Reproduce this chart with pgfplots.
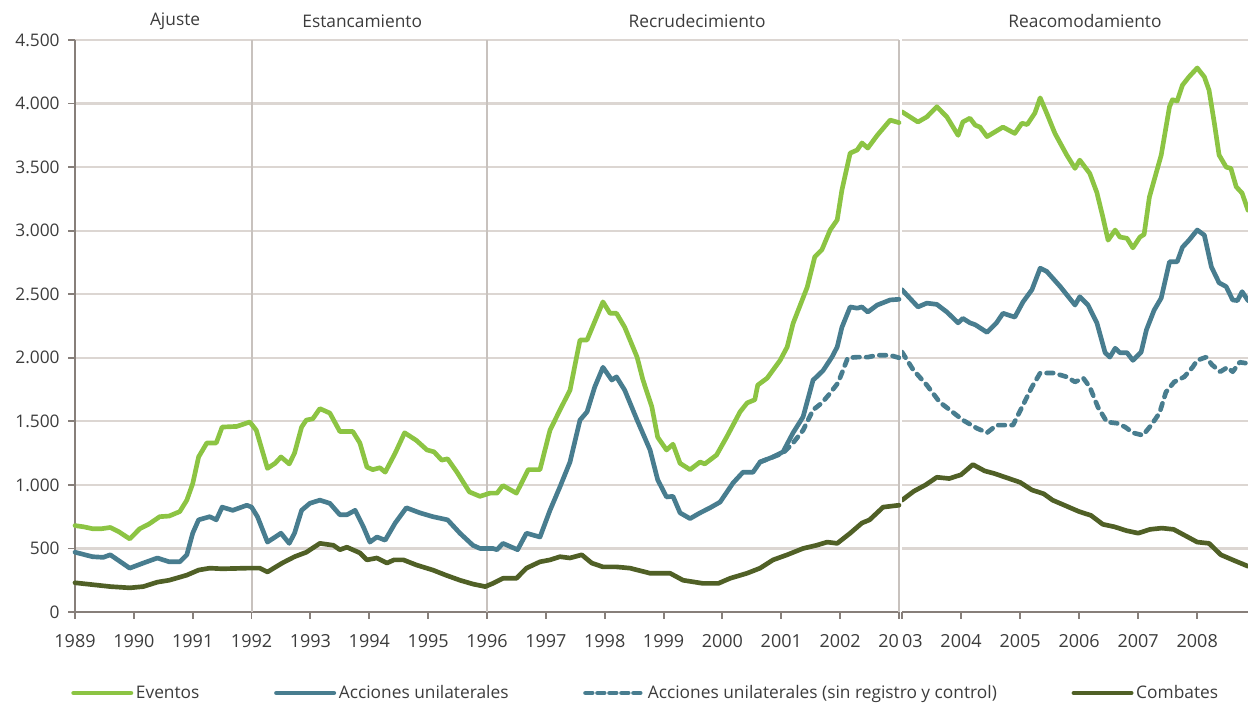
\documentclass[border=0pt]{standalone}
\usepackage{pgfplots}
\pgfplotsset{compat=1.18}
\usepackage{fontspec}
\setmainfont{Open Sans}

\definecolor{eventos}{RGB}{140,196,67}
\definecolor{acciones}{RGB}{72,125,143}
\definecolor{combates}{RGB}{80,96,38}
\definecolor{gridc}{RGB}{220,214,210}
\definecolor{axisc}{RGB}{135,127,122}
\definecolor{sepc}{RGB}{200,194,190}
\definecolor{txt}{RGB}{60,60,60}

\pgfplotsset{
  common/.style={
    scale only axis, height=429pt,
    ymin=0, ymax=4500, ytick={0,500,...,4500},
    ymajorgrids, grid style={draw=gridc, line width=1.6pt},
    axis x line=bottom, axis y line=left,
    axis line style={-, draw=axisc, line width=1.6pt},
    tick style={draw=axisc, line width=1.4pt},
    tick align=outside, major tick length=5pt,
    tick label style={text=txt},
    scaled y ticks=false,
    /pgf/number format/1000 sep={.},
    /pgf/number format/assume math mode=true,
    xticklabel style={yshift=-8pt, font=\fontsize{13.5}{15}\selectfont},
    every axis plot/.append style={line width=3.5pt, line join=round, line cap=round},
  }
}

\begin{document}
\begin{tikzpicture}[font=\fontsize{13}{15}\selectfont]
\useasboundingbox (-56.25pt,-69pt) rectangle (879.75pt,459pt);

% left panel 1989-2003
\begin{axis}[common, width=618pt, xmin=1989, xmax=2003, clip=false,
    xtick={1989,1990,...,2003},
    xticklabels={1989,1990,1991,1992,1993,1994,1995,1996,1997,1998,1999,2000,2001,2002,20\phantom{03}},
    yticklabel style={xshift=-3pt},
    legend columns=4,
    legend style={at={(-0.0097,-0.1416)}, anchor=west, draw=none, fill=none,
      text=txt, font=\fontsize{13}{15}\selectfont,
      /tikz/every even column/.append style={column sep=54pt}},
    legend cell align=left,
    legend image code/.code={\draw[#1] (0pt,0pt) -- (43pt,0pt);},
]
\draw[sepc, line width=1.5pt] (axis cs:1992,0) -- (axis cs:1992,4500);
\draw[sepc, line width=1.5pt] (axis cs:1996,0) -- (axis cs:1996,4500);
\draw[sepc, line width=1.5pt] (axis cs:2003,0) -- (axis cs:2003,4500);

\addplot[combates, forget plot] coordinates {
(1989.0,230)(1989.3,215)(1989.6,200)(1989.93,190)(1990.16,200)(1990.4,235)(1990.6,250)
(1990.9,290)(1991.1,330)(1991.29,345)(1991.5,340)(1991.92,345)(1992.14,345)(1992.27,315)
(1992.52,385)(1992.73,435)(1992.93,470)(1993.16,540)(1993.39,525)(1993.5,490)(1993.62,510)
(1993.84,465)(1993.96,410)(1994.13,425)(1994.3,385)(1994.42,410)(1994.58,410)(1994.8,370)
(1995.08,330)(1995.3,290)(1995.54,250)(1995.76,220)(1995.97,200)(1996.1,225)(1996.27,265)
(1996.5,265)(1996.67,345)(1996.9,395)(1997.07,410)(1997.24,435)(1997.41,425)(1997.61,450)
(1997.78,385)(1997.97,355)(1998.2,355)(1998.43,345)(1998.77,305)(1999.11,305)(1999.33,250)
(1999.67,225)(1999.93,225)(2000.13,265)(2000.42,305)(2000.64,345)(2000.86,410)(2001.1,450)
(2001.37,500)(2001.6,525)(2001.78,550)(2001.95,540)(2002.17,620)(2002.37,700)(2002.5,725)
(2002.73,825)(2003.0,840)};

\addplot[acciones, dash pattern=on 5pt off 5pt, forget plot] coordinates {
(2000.64,1180)(2000.86,1220)(2001.03,1250)(2001.2,1330)(2001.37,1430)(2001.54,1590)
(2001.69,1645)(2001.8,1705)(2001.96,1800)(2002.03,1880)(2002.13,2000)(2002.29,2005)
(2002.47,2005)(2002.63,2020)(2002.85,2020)(2003.0,2000)};

\addplot[acciones, forget plot] coordinates {
(1989.0,470)(1989.3,435)(1989.48,430)(1989.6,450)(1989.93,345)(1990.16,385)(1990.4,425)
(1990.6,395)(1990.78,395)(1990.9,450)(1991.0,620)(1991.1,725)(1991.29,750)(1991.4,725)
(1991.5,825)(1991.68,800)(1991.92,840)(1992.0,825)(1992.1,750)(1992.27,550)(1992.5,620)
(1992.64,540)(1992.73,620)(1992.85,800)(1992.99,855)(1993.16,880)(1993.33,855)(1993.5,765)
(1993.62,765)(1993.76,800)(1993.9,670)(1994.01,550)(1994.13,590)(1994.27,565)(1994.44,700)
(1994.63,820)(1994.86,780)(1995.08,750)(1995.33,725)(1995.54,620)(1995.76,525)(1995.88,500)
(1996.1,500)(1996.17,490)(1996.27,540)(1996.52,490)(1996.67,620)(1996.9,590)(1997.07,800)
(1997.24,985)(1997.41,1180)(1997.58,1510)(1997.7,1575)(1997.83,1770)(1997.97,1925)
(1998.12,1825)(1998.2,1850)(1998.34,1745)(1998.55,1510)(1998.77,1275)(1998.9,1040)
(1999.05,905)(1999.16,910)(1999.28,780)(1999.45,735)(1999.62,780)(1999.79,820)(1999.96,865)
(2000.18,1015)(2000.35,1100)(2000.52,1100)(2000.64,1180)(2000.86,1220)(2001.03,1260)
(2001.2,1410)(2001.37,1535)(2001.54,1825)(2001.6,1850)(2001.71,1900)(2001.86,2005)
(2001.95,2085)(2002.03,2240)(2002.17,2400)(2002.29,2390)(2002.37,2400)(2002.47,2360)
(2002.63,2415)(2002.85,2455)(2003.0,2460)};

\addplot[eventos, forget plot] coordinates {
(1989.0,680)(1989.15,670)(1989.3,655)(1989.45,655)(1989.6,665)(1989.75,630)(1989.93,575)
(1990.1,655)(1990.25,690)(1990.44,750)(1990.6,755)(1990.78,790)(1990.9,880)(1991.0,1010)
(1991.1,1220)(1991.24,1330)(1991.4,1330)(1991.5,1455)(1991.75,1460)(1991.97,1495)
(1992.08,1430)(1992.27,1130)(1992.4,1170)(1992.5,1220)(1992.64,1165)(1992.73,1250)
(1992.85,1455)(1992.93,1510)(1993.04,1520)(1993.16,1600)(1993.33,1565)(1993.5,1420)
(1993.72,1420)(1993.84,1330)(1993.96,1140)(1994.06,1120)(1994.18,1135)(1994.27,1100)
(1994.44,1250)(1994.6,1410)(1994.8,1350)(1994.98,1275)(1995.1,1260)(1995.23,1195)
(1995.33,1205)(1995.49,1100)(1995.7,945)(1995.88,910)(1996.05,935)(1996.17,935)
(1996.27,995)(1996.5,935)(1996.7,1120)(1996.9,1120)(1997.07,1430)(1997.24,1590)
(1997.41,1745)(1997.58,2140)(1997.7,2140)(1997.97,2440)(1998.09,2350)(1998.2,2350)
(1998.34,2240)(1998.55,2005)(1998.65,1825)(1998.8,1615)(1998.9,1375)(1999.05,1275)
(1999.16,1320)(1999.28,1170)(1999.45,1120)(1999.62,1180)(1999.7,1165)(1999.9,1235)
(2000.07,1375)(2000.3,1575)(2000.42,1645)(2000.55,1670)(2000.6,1785)(2000.76,1840)
(2000.98,1980)(2001.1,2085)(2001.2,2270)(2001.44,2555)(2001.57,2795)(2001.69,2850)
(2001.83,3005)(2001.95,3085)(2002.03,3320)(2002.17,3610)(2002.29,3635)(2002.37,3690)
(2002.47,3650)(2002.63,3750)(2002.85,3870)(2003.0,3850)};

\addlegendimage{eventos, line width=3.5pt}
\addlegendentry{Eventos}
\addlegendimage{acciones, line width=3.5pt}
\addlegendentry{Acciones unilaterales}
\addlegendimage{acciones, line width=3.5pt, dash pattern=on 5pt off 4pt, line cap=round}
\addlegendentry{Acciones unilaterales (sin registro y control)}
\addlegendimage{combates, line width=3.5pt}
\addlegendentry{Combates}

\node[text=txt] at (axis cs:1990.7,4500) [yshift=14pt] {Ajuste};
\node[text=txt] at (axis cs:1993.88,4500) [yshift=14pt] {Estancamiento};
\node[text=txt] at (axis cs:1999.57,4500) [yshift=14pt] {Recrudecimiento};
\node[text=txt] at (axis cs:2006.16,4500) [yshift=14pt] {Reacomodamiento};
\end{axis}

% right panel 2003-2008
\begin{axis}[common, at={(620.25pt,0pt)}, width=259.5pt, xmin=2003, xmax=2008.86,
    xtick={2003,2004,...,2008},
    xticklabels={\phantom{20}03,2004,2005,2006,2007,2008},
    y axis line style={draw=none}, ytick style={draw=none}, yticklabels={},
]
\addplot[combates] coordinates {
(2003.0,880)(2003.2,950)(2003.4,1000)(2003.59,1060)(2003.8,1050)(2004.0,1080)(2004.2,1160)
(2004.4,1110)(2004.56,1090)(2004.75,1060)(2005.0,1020)(2005.2,960)(2005.4,930)(2005.55,880)
(2005.8,830)(2006.0,790)(2006.2,760)(2006.4,690)(2006.6,670)(2006.8,640)(2007.0,620)
(2007.2,650)(2007.4,660)(2007.6,650)(2007.8,600)(2008.0,550)(2008.2,540)(2008.4,450)
(2008.6,410)(2008.86,360)};

\addplot[acciones, dash pattern=on 5pt off 5pt] coordinates {
(2003.0,2045)(2003.19,1905)(2003.42,1785)(2003.64,1650)(2003.81,1590)(2004.03,1510)
(2004.27,1445)(2004.44,1410)(2004.6,1470)(2004.88,1470)(2005.03,1610)(2005.2,1770)
(2005.34,1880)(2005.57,1880)(2005.79,1850)(2005.93,1810)(2006.07,1840)(2006.18,1770)
(2006.32,1610)(2006.47,1495)(2006.64,1485)(2006.78,1455)(2006.91,1410)(2007.08,1390)
(2007.22,1470)(2007.36,1565)(2007.47,1730)(2007.61,1810)(2007.78,1850)(2007.92,1925)
(2008.0,1980)(2008.15,2005)(2008.25,1945)(2008.39,1890)(2008.51,1925)(2008.6,1890)
(2008.72,1965)(2008.86,1955)};

\addplot[acciones] coordinates {
(2003.0,2535)(2003.27,2400)(2003.42,2430)(2003.59,2420)(2003.76,2360)(2003.95,2275)
(2004.03,2310)(2004.15,2275)(2004.24,2260)(2004.44,2200)(2004.6,2275)(2004.71,2350)
(2004.91,2320)(2005.05,2440)(2005.2,2535)(2005.34,2705)(2005.45,2680)(2005.68,2560)
(2005.93,2415)(2006.01,2480)(2006.15,2415)(2006.3,2275)(2006.44,2040)(2006.52,2005)
(2006.61,2075)(2006.69,2040)(2006.81,2040)(2006.91,1980)(2007.05,2045)(2007.14,2220)
(2007.27,2375)(2007.39,2470)(2007.53,2755)(2007.66,2755)(2007.75,2870)(2007.86,2925)
(2008.0,3005)(2008.12,2965)(2008.24,2715)(2008.37,2590)(2008.49,2560)(2008.6,2455)
(2008.68,2450)(2008.76,2520)(2008.86,2450)};

\addplot[eventos] coordinates {
(2003.0,3935)(2003.27,3855)(2003.42,3895)(2003.59,3975)(2003.76,3895)(2003.95,3750)
(2004.03,3855)(2004.15,3885)(2004.24,3830)(2004.32,3815)(2004.44,3740)(2004.71,3815)
(2004.91,3765)(2005.03,3845)(2005.12,3835)(2005.25,3925)(2005.34,4045)(2005.45,3925)
(2005.59,3765)(2005.79,3595)(2005.93,3490)(2006.01,3555)(2006.18,3450)(2006.3,3300)
(2006.4,3110)(2006.49,2925)(2006.61,3005)(2006.69,2950)(2006.81,2940)(2006.91,2865)
(2007.03,2950)(2007.1,2970)(2007.19,3265)(2007.39,3595)(2007.53,3975)(2007.58,4030)
(2007.66,4020)(2007.75,4145)(2007.86,4210)(2008.0,4280)(2008.12,4210)(2008.2,4105)
(2008.29,3845)(2008.37,3595)(2008.49,3500)(2008.57,3490)(2008.66,3345)(2008.76,3295)
(2008.86,3160)};
\end{axis}
\end{tikzpicture}
\end{document}
